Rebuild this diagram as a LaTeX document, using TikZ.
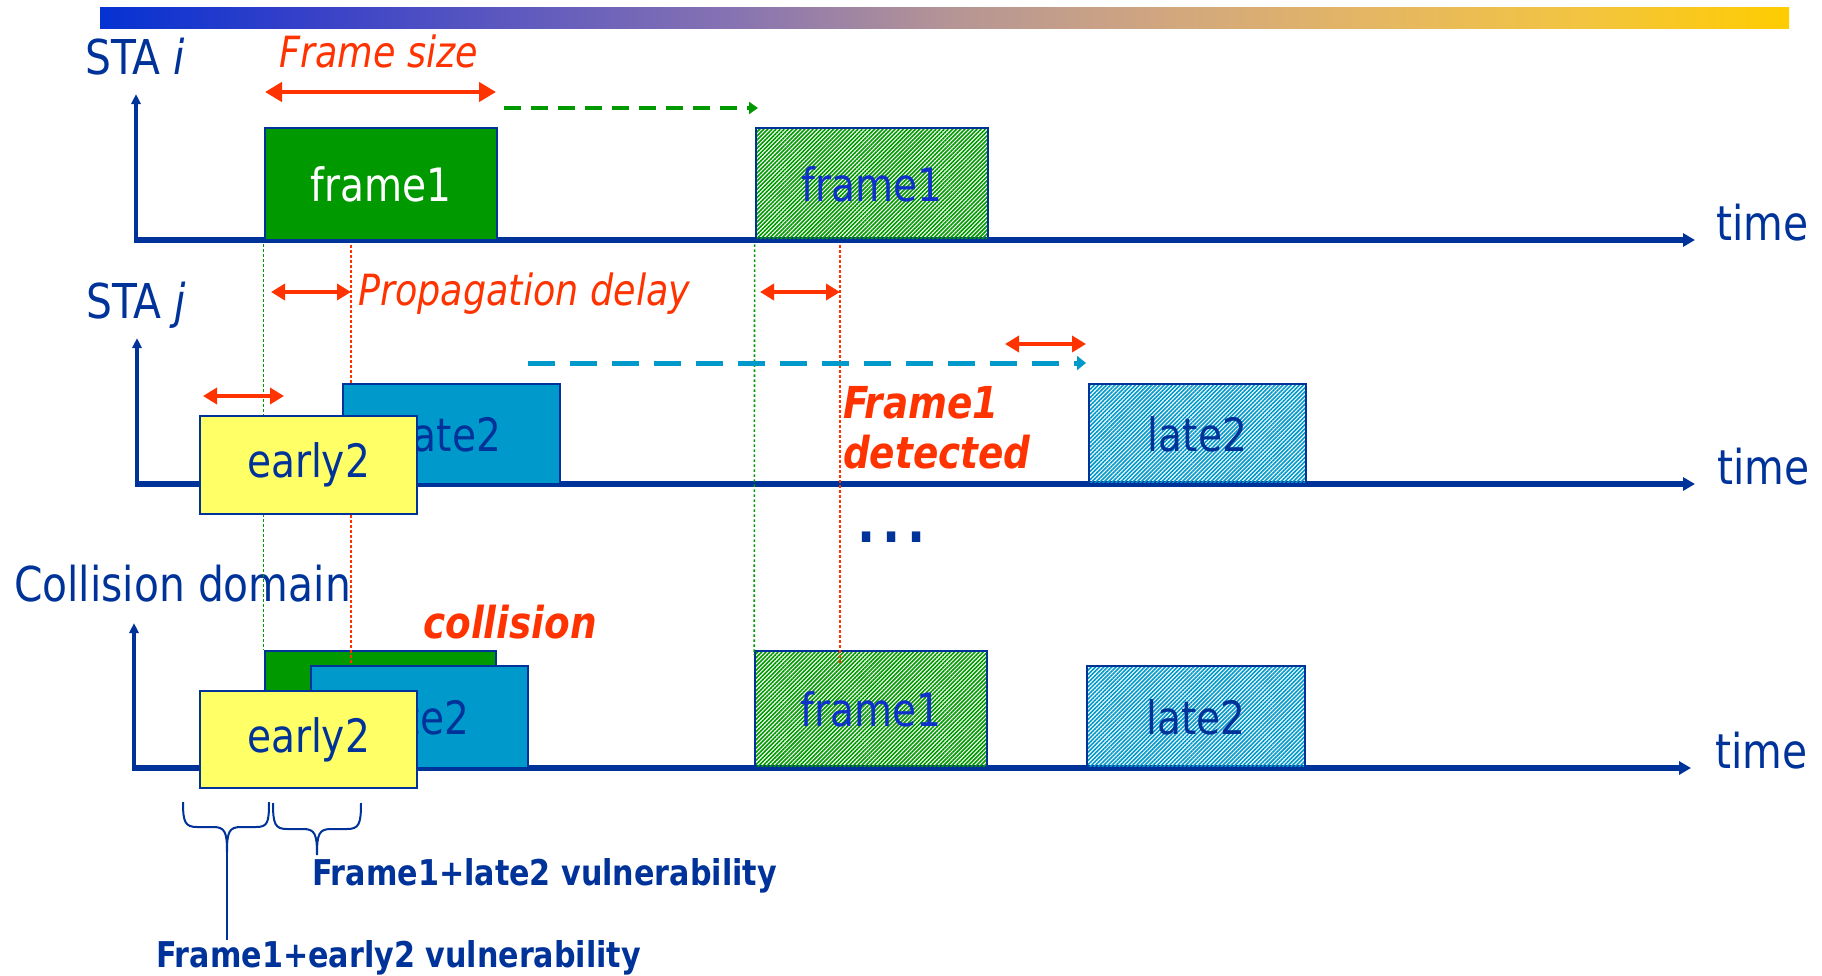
\documentclass[tikz,border=0pt]{standalone}
\usepackage{fontspec}
\setmainfont[FakeStretch=0.85]{DejaVu Sans}
\usetikzlibrary{arrows.meta,patterns.meta}

\definecolor{axisblue}{RGB}{0,51,153}
\definecolor{hotred}{RGB}{255,51,0}
\definecolor{framegreen}{RGB}{0,153,0}
\definecolor{lateblue}{RGB}{0,153,204}
\definecolor{earlyyellow}{RGB}{255,255,102}
\definecolor{royal}{RGB}{16,48,204}

% colour stops of the title bar
\definecolor{barA}{RGB}{5,50,210}
\definecolor{barB}{RGB}{55,65,200}
\definecolor{barC}{RGB}{95,90,190}
\definecolor{barD}{RGB}{135,115,178}
\definecolor{barE}{RGB}{180,148,150}
\definecolor{barF}{RGB}{208,166,128}
\definecolor{barG}{RGB}{228,182,100}
\definecolor{barH}{RGB}{242,196,65}
\definecolor{barI}{RGB}{255,204,0}
\pgfdeclarehorizontalshading{titlebar}{100bp}{
  color(0bp)=(barA); color(25bp)=(barA); color(31.25bp)=(barB);
  color(37.5bp)=(barC); color(43.75bp)=(barD); color(50bp)=(barE);
  color(56.25bp)=(barF); color(62.5bp)=(barG); color(68.75bp)=(barH);
  color(75bp)=(barI); color(100bp)=(barI)}

\begin{document}
\begin{tikzpicture}[x=1pt,y=-1pt,
  axisline/.style={draw=axisblue, line width=5.3pt, -{Triangle[length=12pt,width=13pt]}},
  vaxisline/.style={draw=axisblue, line width=3.3pt, -{Triangle[length=10pt,width=9pt]}},
  axislabel/.style={anchor=base west, inner sep=0pt, text=axisblue, font=\fontsize{48}{54}\selectfont},
  redlabel/.style={anchor=base west, inner sep=0pt, text=hotred, font=\fontsize{43}{50}\selectfont\itshape},
  redbold/.style={anchor=base west, inner sep=0pt, text=hotred, font=\fontsize{44}{50}\selectfont\bfseries\itshape},
  vulnlabel/.style={anchor=base west, inner sep=0pt, text=axisblue, font=\fontsize{35.5}{40}\selectfont\bfseries},
  slot/.style={draw=axisblue, line width=2.8pt, inner sep=0pt, text=axisblue, font=\fontsize{46}{50}\selectfont},
  greenslot/.style={slot, fill=framegreen, text=white},
  blueslot/.style={slot, fill=lateblue},
  yellowslot/.style={slot, fill=earlyyellow},
  greenhatch/.style={slot, pattern={Lines[angle=45,distance=2.9pt,line width=1.6pt]}, pattern color=framegreen, text=royal},
  bluehatch/.style={slot, pattern={Lines[angle=45,distance=2.9pt,line width=1.6pt]}, pattern color=lateblue},
  bigspan/.style={draw=hotred, line width=4.5pt, {Triangle[length=17pt,width=19pt]}-{Triangle[length=17pt,width=19pt]}},
  span/.style={draw=hotred, line width=4pt, {Triangle[length=14pt,width=16pt]}-{Triangle[length=14pt,width=16pt]}},
  gdash/.style={draw=framegreen, line width=3.5pt, dash pattern=on 17pt off 10pt, -{Triangle[length=9pt,width=12pt]}},
  bdash/.style={draw=lateblue, line width=5pt, dash pattern=on 27pt off 15pt, -{Triangle[length=9pt,width=14pt]}},
  gdot/.style={draw=framegreen, line width=1.6pt, dash pattern=on 2.5pt off 2.5pt},
  rdot/.style={draw=hotred, line width=1.6pt, dash pattern=on 2.5pt off 2.5pt},
  bracepath/.style={draw=axisblue, line width=2pt}]

% canvas
\fill[white] (0,0) rectangle (1822,975);
\useasboundingbox (0,0) rectangle (1822,975);

% title bar
\shade[shading=titlebar] (100,7) rectangle (1789,28);

% ---- time axes ----
\coordinate (o1) at (136,240); \coordinate (t1) at (136,94);  \coordinate (e1) at (1695,240);
\coordinate (o2) at (137,484); \coordinate (t2) at (137,338); \coordinate (e2) at (1695,484);
\coordinate (o3) at (134,768); \coordinate (t3) at (134,623); \coordinate (e3) at (1691,768);
\draw[vaxisline] (o1) -- (t1);
\draw[vaxisline] (o2) -- (t2);
\draw[vaxisline] (o3) -- (t3);
\draw[axisline] ([xshift=-1.6pt]o1) -- (e1);
\draw[axisline] ([xshift=-1.6pt]o2) -- (e2);
\draw[axisline] ([xshift=-1.6pt]o3) -- (e3);

\node[axislabel] (time1) at (1716,240) {time};
\node[axislabel] (time2) at (1717,484) {time};
\node[axislabel] (time3) at (1715,768) {time};

\node[axislabel] (stai) at (85,74) {STA \textit{i}};
\node[axislabel] (staj) at (86,318) {STA \textit{j}};
\node[axislabel] (cdom) at (14,601) {Collision domain};

% ---- collision domain: frame1 underneath ----
\node[greenslot, minimum width=231pt, minimum height=117pt] (c1) at (380.5,709.5) {};
\node[greenhatch, minimum width=232pt, minimum height=117pt] (c4) at (871,709.5) {frame1};
\node[bluehatch, minimum width=218pt, minimum height=102pt] (c5) at (1196,717) {late2};

% ---- STA i frames ----
\node[greenslot, minimum width=232pt, minimum height=112pt] (f1) at (381,184) {frame1};
\node[greenhatch, minimum width=232pt, minimum height=112pt] (f1h) at (872,184) {frame1};

% ---- propagation delay markers ----
\coordinate (pdA) at (271,292); \coordinate (pdB) at (351,292);
\coordinate (pdC) at (760,292); \coordinate (pdD) at (840,292);

\draw[gdot] ([yshift=-3pt]f1.south west) -- (c1.north west);
\draw[rdot] ([yshift=-4pt]f1.south -| pdB) -- ([yshift=-15pt]c1.north -| pdB);
\draw[gdot] ([yshift=-3pt]f1h.south west) -- ([yshift=-5pt]c4.north west);
\draw[rdot] ([yshift=-4pt]f1h.south -| pdD) -- ([yshift=-14pt]c4.north -| pdD);

% ---- STA j frames ----
\node[blueslot, minimum width=217pt, minimum height=100pt] (l2) at (451.5,434) {late2};
\node[yellowslot, minimum width=217pt, minimum height=98pt] (e2box) at (308.5,465) {early2};
\node[bluehatch, minimum width=217pt, minimum height=100pt] (l2h) at (1197.5,434) {late2};

% ---- collision domain: overlapping frames ----
\node[blueslot, minimum width=217pt, minimum height=102pt] (c2) at (419.5,717) {late2};
\node[yellowslot, minimum width=217pt, minimum height=97pt] (c3) at (308.5,739.5) {early2};

% ---- arrows ----
\coordinate (fsA) at (265,92);  \coordinate (fsB) at (496,92);
\coordinate (gdA) at (504,108); \coordinate (gdB) at (758,108);
\coordinate (erA) at (203,396); \coordinate (erB) at (284,396);
\coordinate (ltA) at (1005,344); \coordinate (ltB) at (1086,344);
\coordinate (bdA) at (528,363); \coordinate (bdB) at (1086,363);

\draw[bigspan] (fsA) -- (fsB);
\draw[gdash] (gdA) -- (gdB);
\draw[span] (pdA) -- (pdB);
\draw[span] (pdC) -- (pdD);
\draw[span] (erA) -- (erB);
\draw[span] (ltA) -- (ltB);
\draw[bdash] (bdA) -- (bdB);

% ---- annotations ----
\node[redlabel] (fsize) at (279,67) {Frame size};
\node[redlabel] (pdelay) at (358,305) {Propagation delay};
\node[redbold] (det1) at (843,418) {Frame1};
\node[redbold] (det2) at (843,468) {detected};
\node[redbold] (coll) at (423,638) {collision};
\node[anchor=base west, inner sep=0pt, text=axisblue, font=\fontsize{56}{60}\selectfont\bfseries] (dots) at (857,542) {.\kern7pt.\kern7pt.};

% ---- vulnerability braces ----
\coordinate (b1tip) at (227,852);
\coordinate (b2tip) at (317,855);
\draw[bracepath] (183,802) .. controls (183,822) and (185,827) .. (197,827) -- (213,827)
  .. controls (225,827) and (227,832) .. (b1tip)
  .. controls (227,832) and (229,827) .. (241,827) -- (256,827)
  .. controls (268,827) and (269,822) .. (269,802);
\draw[bracepath] (273,803) .. controls (273,824) and (275,829) .. (287,829) -- (303,829)
  .. controls (315,829) and (317,834) .. (b2tip)
  .. controls (317,834) and (319,829) .. (331,829) -- (347,829)
  .. controls (359,829) and (361,824) .. (361,803);

\node[vulnlabel] (vlate) at (312,885) {Frame1+late2 vulnerability};
\node[vulnlabel] (vearly) at (156,967) {Frame1+early2 vulnerability};
\draw[bracepath] (b1tip) -- (vearly.north -| b1tip);

\end{tikzpicture}
\end{document}
